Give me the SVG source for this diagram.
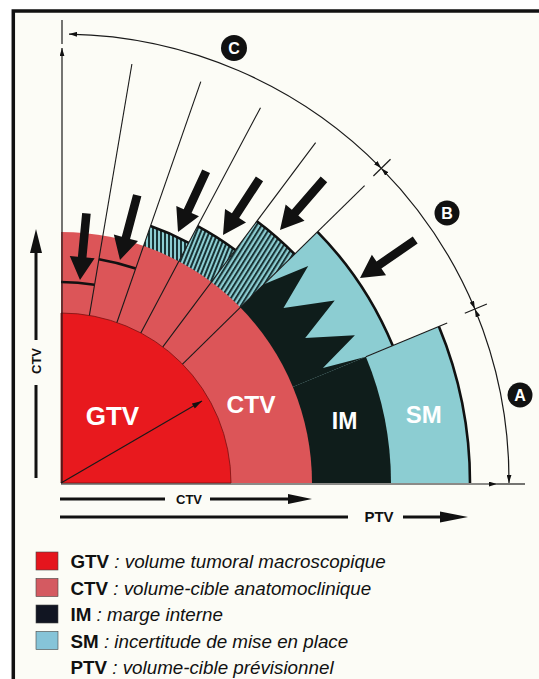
<svg xmlns="http://www.w3.org/2000/svg" width="539" height="679" viewBox="0 0 539 679">
<style>
.rad{fill:none;stroke:#1a1a1a;stroke-width:1.1}
.edge{fill:none;stroke:#111;stroke-width:2.6}
.thin{fill:none;stroke:#1a1a1a;stroke-width:1.2}
.lbl{font-family:"Liberation Sans",Arial,sans-serif;font-weight:bold;fill:#fff;text-anchor:middle}
.ax{font-family:"Liberation Sans",Arial,sans-serif;font-weight:bold;fill:#111;text-anchor:middle}
.leg{font-family:"Liberation Sans",Arial,sans-serif;font-size:18.8px;fill:#111}
.b{font-weight:bold}
.i{font-style:italic}
.gtv{fill:#e8191e}
.ctv{fill:#dc5558}
.im{fill:#0f1d1b}
.sm{fill:#8ccdd2}
.bar{stroke:#111;stroke-width:3;fill:none}
.big{fill:#111}
.circ{fill:#111}
</style>
<defs>
<pattern id="h3" patternUnits="userSpaceOnUse" width="4" height="10" patternTransform="rotate(0)">
<rect width="4" height="10" fill="#8ccdd2"/><rect width="2" height="10" fill="#183234"/>
</pattern>
<pattern id="h4" patternUnits="userSpaceOnUse" width="4" height="10" patternTransform="rotate(22)">
<rect width="4" height="10" fill="#8ccdd2"/><rect width="2" height="10" fill="#183234"/>
</pattern>
<pattern id="h5" patternUnits="userSpaceOnUse" width="4.2" height="10" patternTransform="rotate(32)">
<rect width="4.2" height="10" fill="#8ccdd2"/><rect width="2" height="10" fill="#183234"/>
</pattern>
<marker id="ah" viewBox="0 0 10 6" refX="10" refY="3" markerWidth="8" markerHeight="5" markerUnits="userSpaceOnUse" orient="auto-start-reverse">
<path d="M0,0 L10,3 L0,6 Z" fill="#111"/>
</marker>
<marker id="ah2" viewBox="0 0 10 6" refX="10" refY="3" markerWidth="11" markerHeight="6" markerUnits="userSpaceOnUse" orient="auto">
<path d="M0,0 L10,3 L0,6 Z" fill="#111"/>
</marker>
<path id="bigArrow" d="M0,0 L-23,-12.5 L-23,-4.3 L-67,-4.3 L-67,4.3 L-23,4.3 L-23,12.5 Z"/>
</defs>

<rect x="0" y="0" width="539" height="679" fill="#ffffff"/>
<rect id="frame" x="13.3" y="11" width="600" height="720" fill="#fcfcf6" stroke="#111" stroke-width="3.5"/>

<g id="diagram">
  <g id="sm-zones">
    <path class="sm" d="M61,483 L470,483 A409,409 0 0 0 438.9,326.5 Z"/>
    <path class="sm" d="M61,483 L392.7,345.6 A359,359 0 0 0 317.5,231.8 Z"/>
  </g>
  <g id="im-zones">
    <path class="im" d="M61,483 L391,483 A330,330 0 0 0 365.9,356.7 Z"/>
    <path class="im" d="M61,483 L263.9,284.3 L308.2,265.9 L283.5,308 L334.7,300.5 L305.2,338 L354.9,335.2 L322.9,368 L365.9,356.7 Z"/>
  </g>
  <g id="hatched-margins">
    <path fill="url(#h3)" d="M61,483 L188.7,242.8 A272,272 0 0 0 150.5,226.1 Z"/>
    <path fill="url(#h4)" d="M61,483 L235.3,250 A291,291 0 0 0 197.6,226.1 Z"/>
    <path fill="url(#h5)" d="M61,483 L294.6,254.2 A327,327 0 0 0 256.9,221.2 Z"/>
  </g>
  <g id="ctv">
    <path class="ctv" d="M61,483 L312,483 A251,251 0 0 0 61,232 Z"/>
  </g>
  <g id="gtv">
    <path class="gtv" d="M61,483 L231,483 A170,170 0 0 0 61,313 Z" stroke="#7a1010" stroke-width="0.8"/>
  </g>
  <g id="edges">
    <path class="edge" d="M94.5,284.8 A201,201 0 0 0 61,282"/>
    <path class="edge" d="M135.7,268.6 A227,227 0 0 0 98.9,259.2"/>
    <path class="edge" d="M188.7,242.8 A272,272 0 0 0 150.5,226.1"/>
    <path class="edge" d="M235.3,250 A291,291 0 0 0 197.6,226.1"/>
    <path class="edge" d="M294.6,254.2 A327,327 0 0 0 256.9,221.2"/>
    <path class="edge" stroke-width="3" d="M392.7,345.6 A359,359 0 0 0 317.5,231.8"/>
    <path class="edge" stroke-width="3.2" d="M470,483 A409,409 0 0 0 438.9,326.5"/>
  </g>
  <g id="radial-lines">
    <line class="rad" x1="365.9" y1="356.7" x2="447.2" y2="323"/>
    <line class="rad" x1="182.5" y1="364.1" x2="364.6" y2="185.6"/>
    <line class="rad" x1="162.8" y1="346.9" x2="315.6" y2="142.7"/>
    <line class="rad" x1="140.8" y1="332.9" x2="260.5" y2="107.7"/>
    <line class="rad" x1="116.9" y1="322.5" x2="200.8" y2="81.6"/>
    <line class="rad" x1="89.4" y1="315.4" x2="131.9" y2="64"/>
  </g>
  <g id="labels">
    <text class="lbl" x="112.5" y="425" font-size="26">GTV</text>
    <text class="lbl" x="251" y="413" font-size="24.5">CTV</text>
    <text class="lbl" x="344.6" y="429" font-size="23">IM</text>
    <text class="lbl" x="423.7" y="423" font-size="24">SM</text>
  </g>
</g>

<g id="connectors">
  <g id="margin-arrows" class="big">
    <use href="#bigArrow" transform="translate(80,280) rotate(95.5)"/>
    <use href="#bigArrow" transform="translate(120,260) rotate(104.9)"/>
    <use href="#bigArrow" transform="translate(178,232) rotate(114.8)"/>
    <use href="#bigArrow" transform="translate(223,235) rotate(123)"/>
    <use href="#bigArrow" transform="translate(280,230) rotate(131)"/>
    <use href="#bigArrow" transform="translate(360,278) rotate(145.5)"/>
  </g>
  <line class="thin" x1="62" y1="483" x2="62" y2="48" marker-end="url(#ah)"/>
  <line class="thin" x1="62" y1="20" x2="62" y2="44"/>
  <line class="thin" x1="61" y1="484" x2="497" y2="484" marker-end="url(#ah)"/>
  <line class="thin" x1="497" y1="484" x2="525" y2="484"/>
  <path class="thin" d="M509,483 A449,449 0 0 0 474.9,309" marker-start="url(#ah)" marker-end="url(#ah)"/>
  <path class="thin" d="M474.9,309 A449,449 0 0 0 381.3,168.3" marker-start="url(#ah)" marker-end="url(#ah)"/>
  <path class="thin" d="M381.3,168.3 A449,449 0 0 0 69,34.1" marker-start="url(#ah)" marker-end="url(#ah)"/>
  <line class="thin" x1="464.8" y1="313.3" x2="486.9" y2="304"/>
  <line class="thin" x1="373.4" y1="176" x2="390.5" y2="159.2"/>
  <line class="thin" x1="61" y1="483" x2="202" y2="401" marker-end="url(#ah2)"/>
  <g id="ctv-vertical">
    <line class="bar" x1="36" y1="478" x2="36" y2="385"/>
    <line class="bar" x1="36" y1="340" x2="36" y2="250"/>
    <path d="M36,229 L42,253 L30,253 Z" fill="#111"/>
    <text class="ax" font-size="13" transform="translate(40.6,361) rotate(-90)">CTV</text>
  </g>
  <g id="ctv-horizontal">
    <line class="bar" x1="60" y1="499" x2="165" y2="499"/>
    <line class="bar" x1="210" y1="499" x2="290" y2="499"/>
    <path d="M312,499 L288,494 L288,504 Z" fill="#111"/>
    <text class="ax" font-size="13" x="189" y="503.7">CTV</text>
  </g>
  <g id="ptv-horizontal">
    <line class="bar" x1="60" y1="517" x2="348" y2="517"/>
    <line class="bar" x1="403" y1="517" x2="442" y2="517"/>
    <path d="M468,517 L440,511.5 L440,522.5 Z" fill="#111"/>
    <text class="ax" font-size="15" x="379" y="522.4">PTV</text>
  </g>
</g>

<g id="zone-C">
  <circle class="circ" cx="234" cy="48" r="13"/>
  <text class="lbl" font-size="16" x="234" y="53.8">C</text>
</g>
<g id="zone-B">
  <circle class="circ" cx="447" cy="213" r="12.5"/>
  <text class="lbl" font-size="16" x="447" y="218.8">B</text>
</g>
<g id="zone-A">
  <circle class="circ" cx="520" cy="395" r="12.5"/>
  <text class="lbl" font-size="16" x="520" y="400.8">A</text>
</g>

<g id="legend" class="leg">
  <g id="leg-gtv"><rect x="36" y="552" width="22" height="18" fill="#e5151d" stroke="#444" stroke-width="0.6"/>
    <text x="70.5" y="568"><tspan class="b">GTV</tspan><tspan class="i"> : volume tumoral macroscopique</tspan></text></g>
  <g id="leg-ctv"><rect x="36" y="578.5" width="22" height="18" fill="#d45a61" stroke="#444" stroke-width="0.6"/>
    <text x="70.5" y="594.5"><tspan class="b">CTV</tspan><tspan class="i"> : volume-cible anatomoclinique</tspan></text></g>
  <g id="leg-im"><rect x="36" y="605" width="22" height="18" fill="#111522" stroke="#444" stroke-width="0.6"/>
    <text x="70.5" y="621"><tspan class="b">IM</tspan><tspan class="i"> : marge interne</tspan></text></g>
  <g id="leg-sm"><rect x="36" y="631.5" width="22" height="18" fill="#86c4d8" stroke="#444" stroke-width="0.6"/>
    <text x="70.5" y="647.5"><tspan class="b">SM</tspan><tspan class="i"> : incertitude de mise en place</tspan></text></g>
  <g id="leg-ptv">
    <text x="70.5" y="674"><tspan class="b">PTV</tspan><tspan class="i"> : volume-cible prévisionnel</tspan></text></g>
</g>
</svg>
